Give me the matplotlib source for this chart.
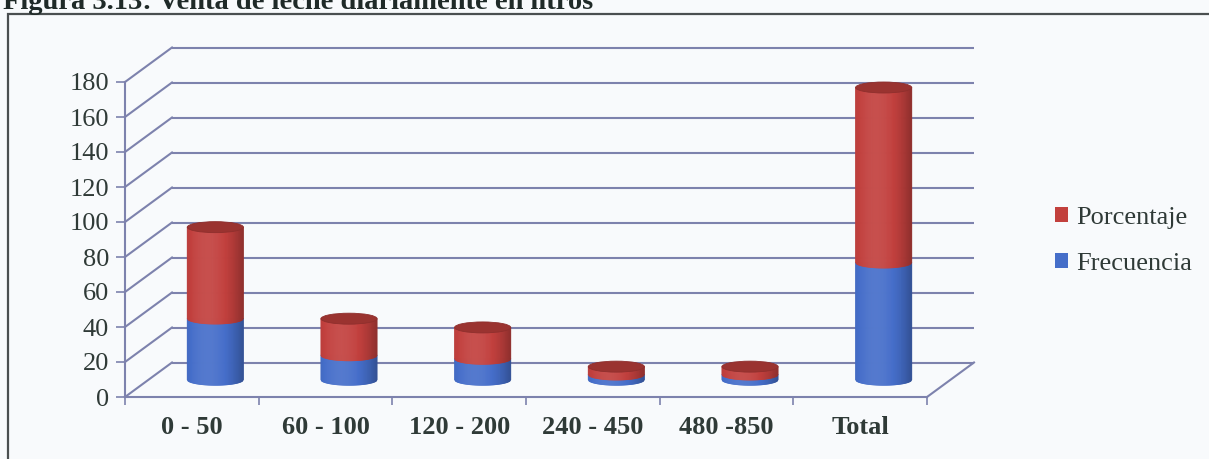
import matplotlib
matplotlib.use("Agg")
import numpy as np
import matplotlib.pyplot as plt
from matplotlib.transforms import ScaledTranslation
from matplotlib.patches import Ellipse, Patch, Rectangle
from matplotlib.collections import PolyCollection

# ---- data -------------------------------------------------------------
categories = ["0 - 50", "60 - 100", "120 - 200", "240 - 450", "480 -850", "Total"]
frecuencia = [35, 14, 12, 3, 3, 67]
porcentaje = [52.2, 20.9, 17.9, 4.5, 4.5, 100.0]
y_ticks = [0, 20, 40, 60, 80, 100, 120, 140, 160, 180]
series_names = ["Porcentaje", "Frecuencia"]
title = "Figura 3.13: Venta de leche diariamente en litros"

# ---- style ------------------------------------------------------------
W, H = 1209, 459
grid_c = "#7d82ad"
text_c = "#2f3a37"
blue = (0.27, 0.43, 0.79)
red = (0.76, 0.25, 0.24)
serif = "Liberation Serif"
fs = 19

fig = plt.figure(figsize=(W / 100, H / 100), dpi=100, facecolor="#f8fafc")

# front plane of the 3-D box
ax = fig.add_axes([125 / W, (H - 397) / H, 802 / W, 315 / H])
ax.patch.set_visible(False)
ax.set_xlim(-0.5, len(categories) - 0.5)
ax.set_ylim(0, 180)

# depth of the box (back wall offset) in inches
depth_x, depth_y = 0.47, 0.345
back = ax.transData + ScaledTranslation(depth_x, depth_y, fig.dpi_scale_trans)
mid = ax.transData + ScaledTranslation(depth_x / 2, depth_y / 2, fig.dpi_scale_trans)
to_data = ax.transData.inverted()

x_lo, x_hi = ax.get_xlim()

# back wall gridlines
for v in y_ticks:
    ax.plot([x_lo, x_hi], [v, v], color=grid_c, lw=1.5, transform=back,
            clip_on=False, zorder=1, solid_capstyle="butt")
    # side wall diagonals from the front axis to the back wall
    p0 = ax.transData.transform((x_lo, v))
    p1 = back.transform((x_lo, v))
    (a0, b0), (a1, b1) = to_data.transform([p0, p1])
    ax.plot([a0, a1], [b0, b1], color=grid_c, lw=1.5, clip_on=False, zorder=1)

# right edge of the floor
p0 = ax.transData.transform((x_hi, 0))
p1 = back.transform((x_hi, 0))
(a0, b0), (a1, b1) = to_data.transform([p0, p1])
ax.plot([a0, a1], [b0, b1], color=grid_c, lw=1.5, clip_on=False, zorder=1)


# ---- cylinders --------------------------------------------------------
def shade(base, u):
    base = np.array(base)
    t = np.clip(1 - ((u + 0.25) / 1.25) ** 2, 0, 1)
    k = 0.74 + 0.34 * t
    if k > 1:
        return tuple(base + (1 - base) * (k - 1))
    return tuple(base * k)


radius = 0.21           # half width in category units
px_per_unit = 315 / 180
ell_b = 5.5 / px_per_unit  # semi-minor axis of the ellipses in value units
n_strips = 60


def draw_segment(i, y0, y1, base, top):
    us = np.linspace(-1, 1, n_strips + 1)
    verts, cols = [], []
    for ua, ub in zip(us[:-1], us[1:]):
        xa, xb = i + radius * ua, i + radius * ub
        ya = y0 - ell_b * np.sqrt(max(0, 1 - ua ** 2))
        yb = y0 - ell_b * np.sqrt(max(0, 1 - ub ** 2))
        verts.append([(xa, ya), (xb, yb), (xb, y1), (xa, y1)])
        cols.append(shade(base, (ua + ub) / 2))
    pc = PolyCollection(verts, facecolors=cols, edgecolors=cols, linewidths=0.6,
                        transform=mid, clip_on=False, zorder=3)
    ax.add_collection(pc)
    if top:
        ax.add_patch(Ellipse((i, y1), 2 * radius, 2 * ell_b, transform=mid,
                             facecolor=shade(base, 0.9), edgecolor=shade(base, 1.0),
                             lw=0.6, clip_on=False, zorder=3.1))


for i, (f, p) in enumerate(zip(frecuencia, porcentaje)):
    draw_segment(i, 0, f, blue, top=False)
    draw_segment(i, f, f + p, red, top=True)

# ---- axes decoration --------------------------------------------------
for s in ("top", "right"):
    ax.spines[s].set_visible(False)
for s in ("left", "bottom"):
    ax.spines[s].set_color(grid_c)
    ax.spines[s].set_linewidth(1.5)

ax.set_yticks(y_ticks)
ax.set_yticklabels([str(v) for v in y_ticks], fontfamily=serif)
ax.tick_params(axis="y", length=6.5, width=1.2, color=grid_c, labelsize=fs,
               labelcolor=text_c, pad=5)

ax.set_xticks(np.arange(x_lo, x_hi + 0.01, 1.0))
ax.set_xticklabels([])
ax.tick_params(axis="x", which="major", length=6, width=1.2, color=grid_c)
ax.set_xticks(range(len(categories)), minor=True)
ax.set_xticklabels(categories, minor=True, fontfamily=serif, fontweight="bold")
ax.tick_params(axis="x", which="minor", length=0, labelsize=fs,
               labelcolor=text_c, pad=14)

# legend
handles = [Patch(facecolor=red), Patch(facecolor=blue)]
fig.legend(handles, series_names, loc="center left",
           bbox_to_anchor=(1031 / W, 1 - 241 / H), frameon=False,
           prop={"family": serif, "size": fs}, labelcolor=text_c,
           handlelength=0.5, handleheight=0.5, handletextpad=0.3,
           labelspacing=0.9)

# outer frame and caption
fig.patches.append(Rectangle((8 / W, -0.2), 1.2, 1.2 - 14 / H,
                             transform=fig.transFigure, fill=False,
                             edgecolor="#4a4f50", lw=1.6))
fig.text(3 / W, 1 - 9 / H, title, fontfamily=serif, fontweight="bold",
         fontsize=20.5, color="#1f2a28", va="baseline", ha="left")

fig.savefig("out.png", dpi=100, facecolor=fig.get_facecolor())
